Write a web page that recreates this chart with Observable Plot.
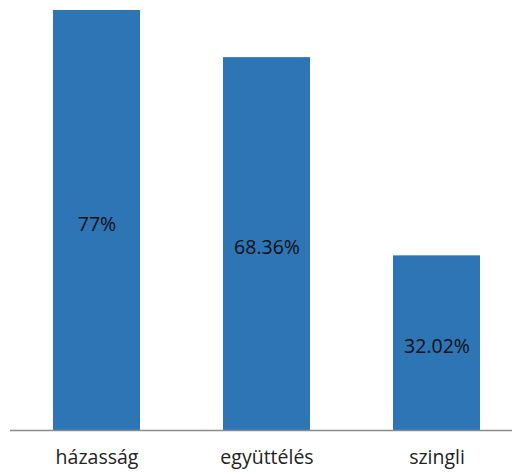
<!DOCTYPE html>
<html>
<head>
<meta charset="utf-8">
<script src="https://cdn.jsdelivr.net/npm/d3@7"></script>
<script src="https://cdn.jsdelivr.net/npm/@observablehq/plot@0.6"></script>
<style>
  html, body { margin: 0; padding: 0; background: #fff; }
  #chart svg { display: block; }
</style>
</head>
<body>
<div id="chart"></div>
<script>
const categories = ["házasság", "együttélés", "szingli"];
const values = [77, 68.36, 32.02];
const valueLabels = ["77%", "68.36%", "32.02%"];

const data = categories.map((c, i) => ({ cat: c, value: values[i], label: valueLabels[i] }));

const chart = Plot.plot({
  width: 512,
  height: 472,
  marginTop: 10,
  marginBottom: 42,
  marginLeft: 10,
  marginRight: 0,
  style: { fontFamily: "Open Sans, sans-serif", background: "#fff" },
  x: { domain: categories, paddingInner: 0.49, paddingOuter: 0.217, align: 0.57, label: null },
  y: { domain: [0, 77], axis: null },
  marks: [
    Plot.barY(data, { x: "cat", y: "value", fill: "#2e75b6" }),
    Plot.text(data, {
      x: "cat",
      y: d => d.value / 2,
      text: "label",
      fontSize: 19.5,
      fill: "#111",
      dy: 4
    }),
    Plot.ruleY([0], { stroke: "#8c8c8c", strokeWidth: 1.5 }),
    Plot.axisX({ tickSize: 0, tickPadding: 20, fontSize: 19.5, color: "#222", label: null })
  ]
});
document.getElementById("chart").appendChild(chart);
</script>
</body>
</html>
